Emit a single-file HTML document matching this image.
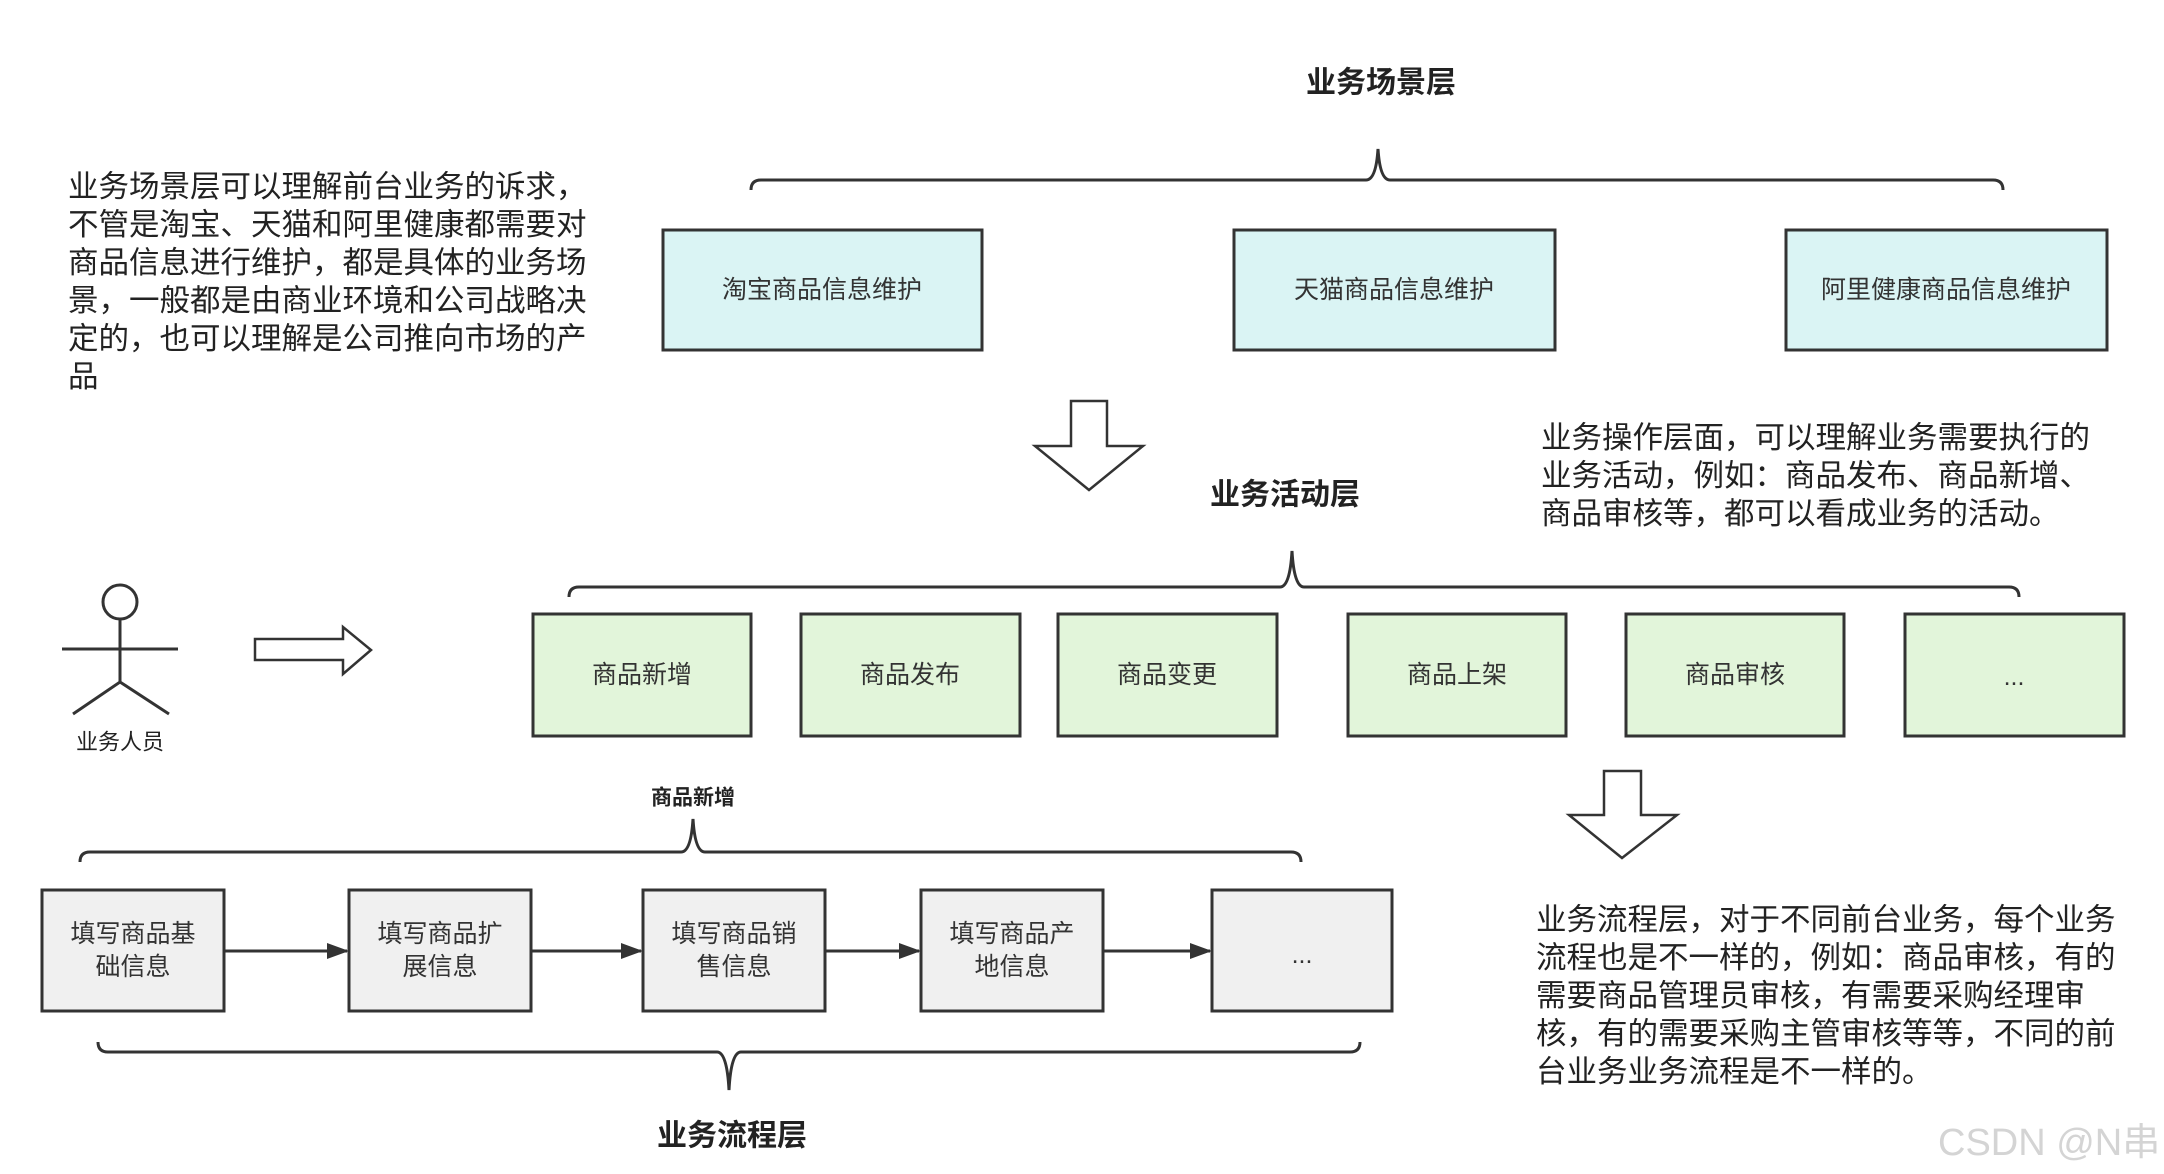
<!DOCTYPE html>
<html><head><meta charset="utf-8"><style>
html,body{margin:0;padding:0;background:#fff}
svg{display:block}
text{font-family:"Liberation Sans","Noto Sans CJK SC",sans-serif;fill:#222}
.t{font-size:30.5px}
.b{font-size:25px;text-anchor:middle;dominant-baseline:central;fill:#333}
.h{font-weight:bold;text-anchor:middle;dominant-baseline:central}
</style></head><body>
<svg width="2164" height="1174" viewBox="0 0 2164 1174" xmlns="http://www.w3.org/2000/svg">
<defs><marker id="ah" markerWidth="22" markerHeight="16" refX="20" refY="8" orient="auto" markerUnits="userSpaceOnUse"><path d="M0,0 L22,8 L0,16Z" fill="#333"/></marker></defs>
<g fill="none" stroke="#333" stroke-width="3">
<path d="M751,190 Q751,180 761,180 L1366,180 Q1376,180 1378,149 Q1380,180 1390,180 L1993,180 Q2003,180 2003,190"/>
<path d="M569,597 Q569,587 579,587 L1280,587 Q1290,587 1292,551 Q1294,587 1304,587 L2009,587 Q2019,587 2019,597"/>
<path d="M80,862 Q80,852 90,852 L681,852 Q691,852 693,819 Q695,852 705,852 L1291,852 Q1301,852 1301,862"/>
<path d="M98,1042 Q98,1052 108,1052 L717,1052 Q727,1052 729,1090 Q731,1052 741,1052 L1350,1052 Q1360,1052 1360,1042"/>
<path d="M1071,401 L1107,401 L1107,446 L1143,446 L1089,490 L1035,446 L1071,446Z" stroke-width="2.5"/>
<path d="M1604,771 L1641,771 L1641,815 L1677,815 L1622,858 L1569,815 L1604,815Z" stroke-width="2.5"/>
<path d="M255,639 L343,639 L343,627 L371,650 L343,674 L343,660 L255,660Z" stroke-width="2.5"/>
<circle cx="120" cy="602" r="17"/>
<path d="M120,619 L120,682 M62,649 L178,649 M73,714 L120,682 L169,714"/>
</g>
<g stroke="#333" stroke-width="3" fill="#daf4f4">
<rect x="663" y="230" width="319" height="120"/>
<rect x="1234" y="230" width="321" height="120"/>
<rect x="1786" y="230" width="321" height="120"/>
</g>
<g stroke="#333" stroke-width="3" fill="#e2f5da">
<rect x="533" y="614" width="218" height="122"/>
<rect x="801" y="614" width="219" height="122"/>
<rect x="1058" y="614" width="219" height="122"/>
<rect x="1348" y="614" width="218" height="122"/>
<rect x="1626" y="614" width="218" height="122"/>
<rect x="1905" y="614" width="219" height="122"/>
</g>
<g stroke="#333" stroke-width="3" fill="#f0f0f0">
<rect x="42" y="890" width="182" height="121"/>
<rect x="349" y="890" width="182" height="121"/>
<rect x="643" y="890" width="182" height="121"/>
<rect x="921" y="890" width="182" height="121"/>
<rect x="1212" y="890" width="180" height="121"/>
</g>
<g stroke="#333" stroke-width="3" marker-end="url(#ah)">
<line x1="224" y1="951" x2="347" y2="951"/>
<line x1="531" y1="951" x2="641" y2="951"/>
<line x1="825" y1="951" x2="919" y2="951"/>
<line x1="1103" y1="951" x2="1210" y2="951"/>
</g>
<text class="b" x="822" y="290">淘宝商品信息维护</text>
<text class="b" x="1394" y="290">天猫商品信息维护</text>
<text class="b" x="1946" y="290">阿里健康商品信息维护</text>
<text class="b" x="642" y="675">商品新增</text>
<text class="b" x="910" y="675">商品发布</text>
<text class="b" x="1167" y="675">商品变更</text>
<text class="b" x="1457" y="675">商品上架</text>
<text class="b" x="1735" y="675">商品审核</text>
<text class="b" x="2014" y="677">...</text>
<text class="b" x="133" y="934">填写商品基</text><text class="b" x="133" y="967">础信息</text>
<text class="b" x="440" y="934">填写商品扩</text><text class="b" x="440" y="967">展信息</text>
<text class="b" x="734" y="934">填写商品销</text><text class="b" x="734" y="967">售信息</text>
<text class="b" x="1012" y="934">填写商品产</text><text class="b" x="1012" y="967">地信息</text>
<text class="b" x="1302" y="955">...</text>
<text class="h" x="1381" y="83" font-size="30">业务场景层</text>
<text class="h" x="1285" y="495" font-size="30">业务活动层</text>
<text class="h" x="732" y="1136" font-size="30">业务流程层</text>
<text class="h" x="693" y="798" font-size="21">商品新增</text>
<text x="120" y="742" font-size="22" text-anchor="middle" dominant-baseline="central" fill="#333">业务人员</text>
<g class="t">
<text x="68" y="197">业务场景层可以理解前台业务的诉求，</text>
<text x="68" y="235">不管是淘宝、天猫和阿里健康都需要对</text>
<text x="68" y="273">商品信息进行维护，都是具体的业务场</text>
<text x="68" y="311">景，一般都是由商业环境和公司战略决</text>
<text x="68" y="349">定的，也可以理解是公司推向市场的产</text>
<text x="68" y="387">品</text>
<text x="1541" y="448">业务操作层面，可以理解业务需要执行的</text>
<text x="1541" y="486">业务活动，例如：商品发布、商品新增、</text>
<text x="1541" y="524">商品审核等，都可以看成业务的活动。</text>
<text x="1536" y="930">业务流程层，对于不同前台业务，每个业务</text>
<text x="1536" y="968">流程也是不一样的，例如：商品审核，有的</text>
<text x="1536" y="1006">需要商品管理员审核，有需要采购经理审</text>
<text x="1536" y="1044">核，有的需要采购主管审核等等，不同的前</text>
<text x="1536" y="1082">台业务业务流程是不一样的。</text>
</g>
<text x="1938" y="1155" font-size="38" style="fill:#d4d4d4">CSDN @N串</text>
</svg>
</body></html>
